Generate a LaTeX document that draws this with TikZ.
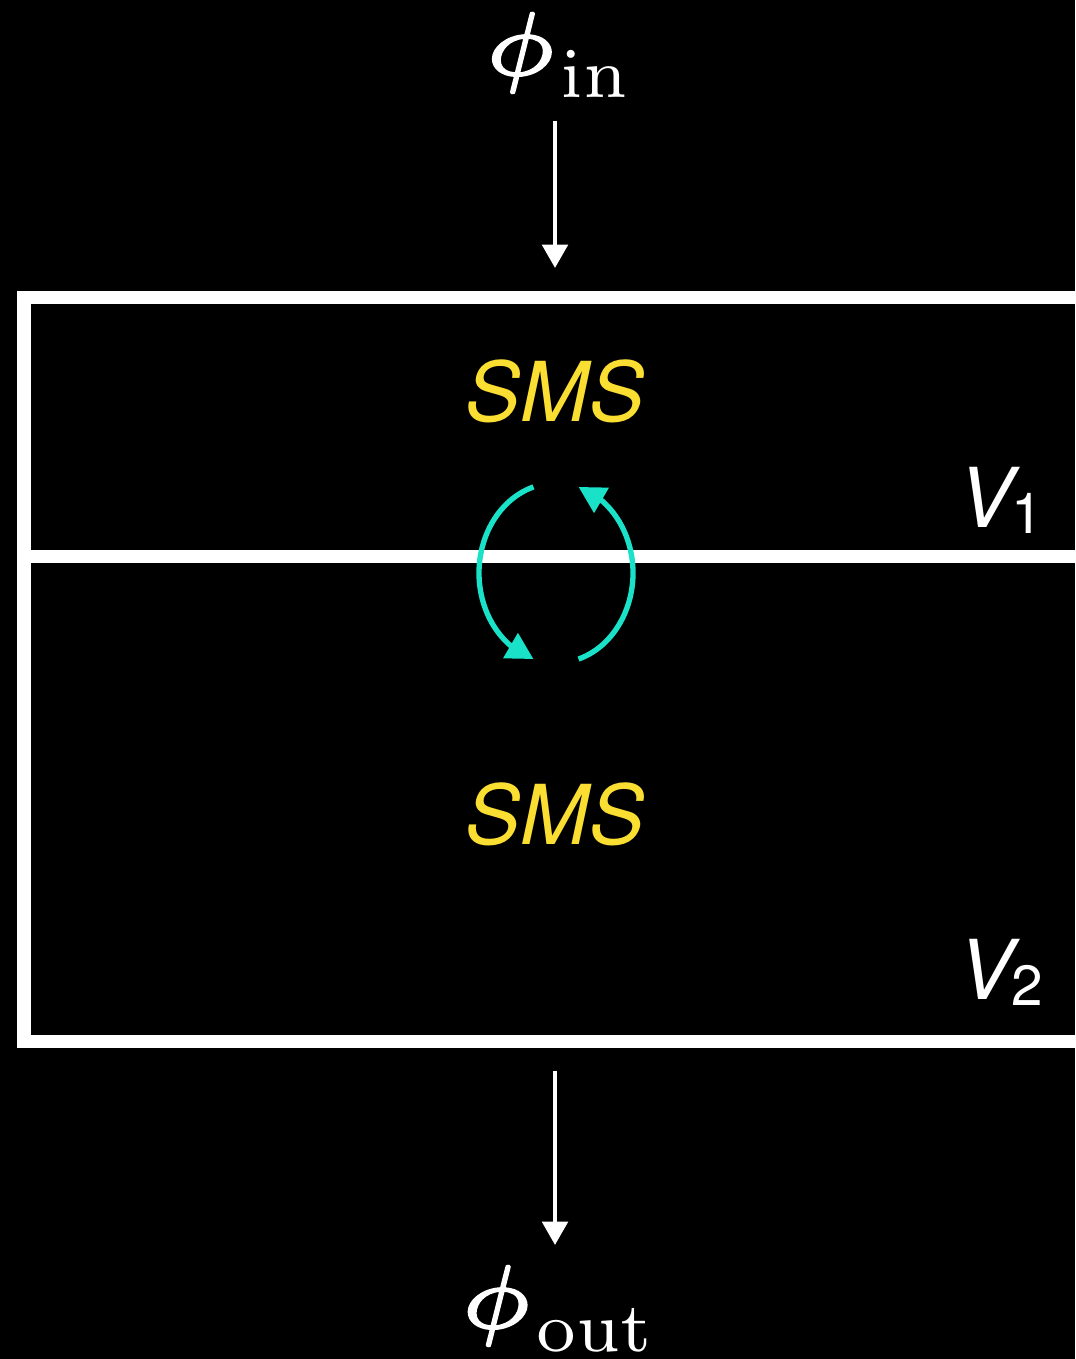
\documentclass[tikz,border=0pt]{standalone}
\usepackage{fontspec}
\newfontfamily\heros{TeX Gyre Heros}
\DeclareFontFamily{OML}{cmm}{\skewchar\font'177}
\DeclareFontShape{OML}{cmm}{m}{it}{<->cmmi5}{}
\DeclareFontFamily{OMS}{cmsy}{\skewchar\font'60}
\DeclareFontShape{OMS}{cmsy}{m}{n}{<->cmsy10}{}
\DeclareFontShape{OT1}{cmr}{m}{n}{<->cmr10}{}
\DeclareFontFamily{OT1}{cmrseven}{}
\DeclareFontShape{OT1}{cmrseven}{m}{n}{<->cmr7}{}
\newcommand\subfont{\fontencoding{OT1}\fontfamily{cmrseven}\fontsize{52.5}{60}\selectfont}
\newcommand\heavytext[1]{\special{pdf:literal 2 Tr 1.2 w}#1\special{pdf:literal 0 Tr}}
\usetikzlibrary{arrows.meta,bending}
\definecolor{smsyellow}{RGB}{250,222,50}
\definecolor{loopcyan}{RGB}{25,226,200}
\begin{document}
\begin{tikzpicture}[x=0.75pt,y=0.75pt,
  wall/.style={draw=white,line width=10pt},
  flow/.style={draw=white,line width=3.2pt,-{Triangle[width=19pt,length=17.5pt]}},
  loopline/.style={draw=loopcyan,line width=4pt,-{Triangle[width=21pt,length=20pt]}},
  phitext/.style={text=white,inner sep=0pt,anchor=base},
  smstext/.style={text=smsyellow,inner sep=0pt,anchor=base,font=\fontsize{62}{70}\selectfont\heros\itshape},
  vtext/.style={text=white,inner sep=0pt,anchor=base west,font=\fontsize{62}{70}\selectfont\heros}]
\fill[black] (0,0) rectangle (1075,1359);
\useasboundingbox (0,0) rectangle (1075,1359);
\begin{scope}
  \clip (0,0) rectangle (1075,1359);
  \draw[wall] (1100,1061.5) -- (24,1061.5) -- (24,317.5) -- (1100,317.5);
  \draw[wall] (24,802.5) -- (1100,802.5);
\end{scope}
% labels
\node[phitext] (phiin) at (555,1284) {\fontsize{67.5}{75}\selectfont\heavytext{$\phi$}\kern2pt\raisebox{-17.25pt}{\subfont in}};
\node[phitext] (phiout) at (555,31) {\fontsize{67.5}{75}\selectfont\heavytext{$\phi$}\kern2pt\raisebox{-17.25pt}{\subfont out}};
\node[smstext] (smsA) at (555,937) {SMS};
\node[smstext] (smsB) at (555,514) {SMS};
\node[vtext] (vA) at (958,831) {\itshape V\kern-1.5pt\raisebox{-4pt}{\fontsize{42.5}{50}\selectfont\upshape 1}};
\node[vtext] (vB) at (958,359) {\itshape V\kern-1.5pt\raisebox{-4pt}{\fontsize{42.5}{50}\selectfont\upshape 2}};
% flow arrows
\coordinate (inTop) at (555,1238);
\coordinate (inTip) at (555,1091);
\coordinate (outTop) at (555,288);
\coordinate (outTip) at (555,114);
\draw[flow] (inTop) -- (inTip);
\draw[flow] (outTop) -- (outTip);
% exchange loop
\coordinate (lc) at (556,786);
\draw[loopline] ([shift={(107:77 and 90)}]lc) arc[start angle=107,end angle=253,x radius=77,y radius=90];
\draw[loopline] ([shift={(-73:77 and 90)}]lc) arc[start angle=-73,end angle=73,x radius=77,y radius=90];
\end{tikzpicture}
\end{document}
